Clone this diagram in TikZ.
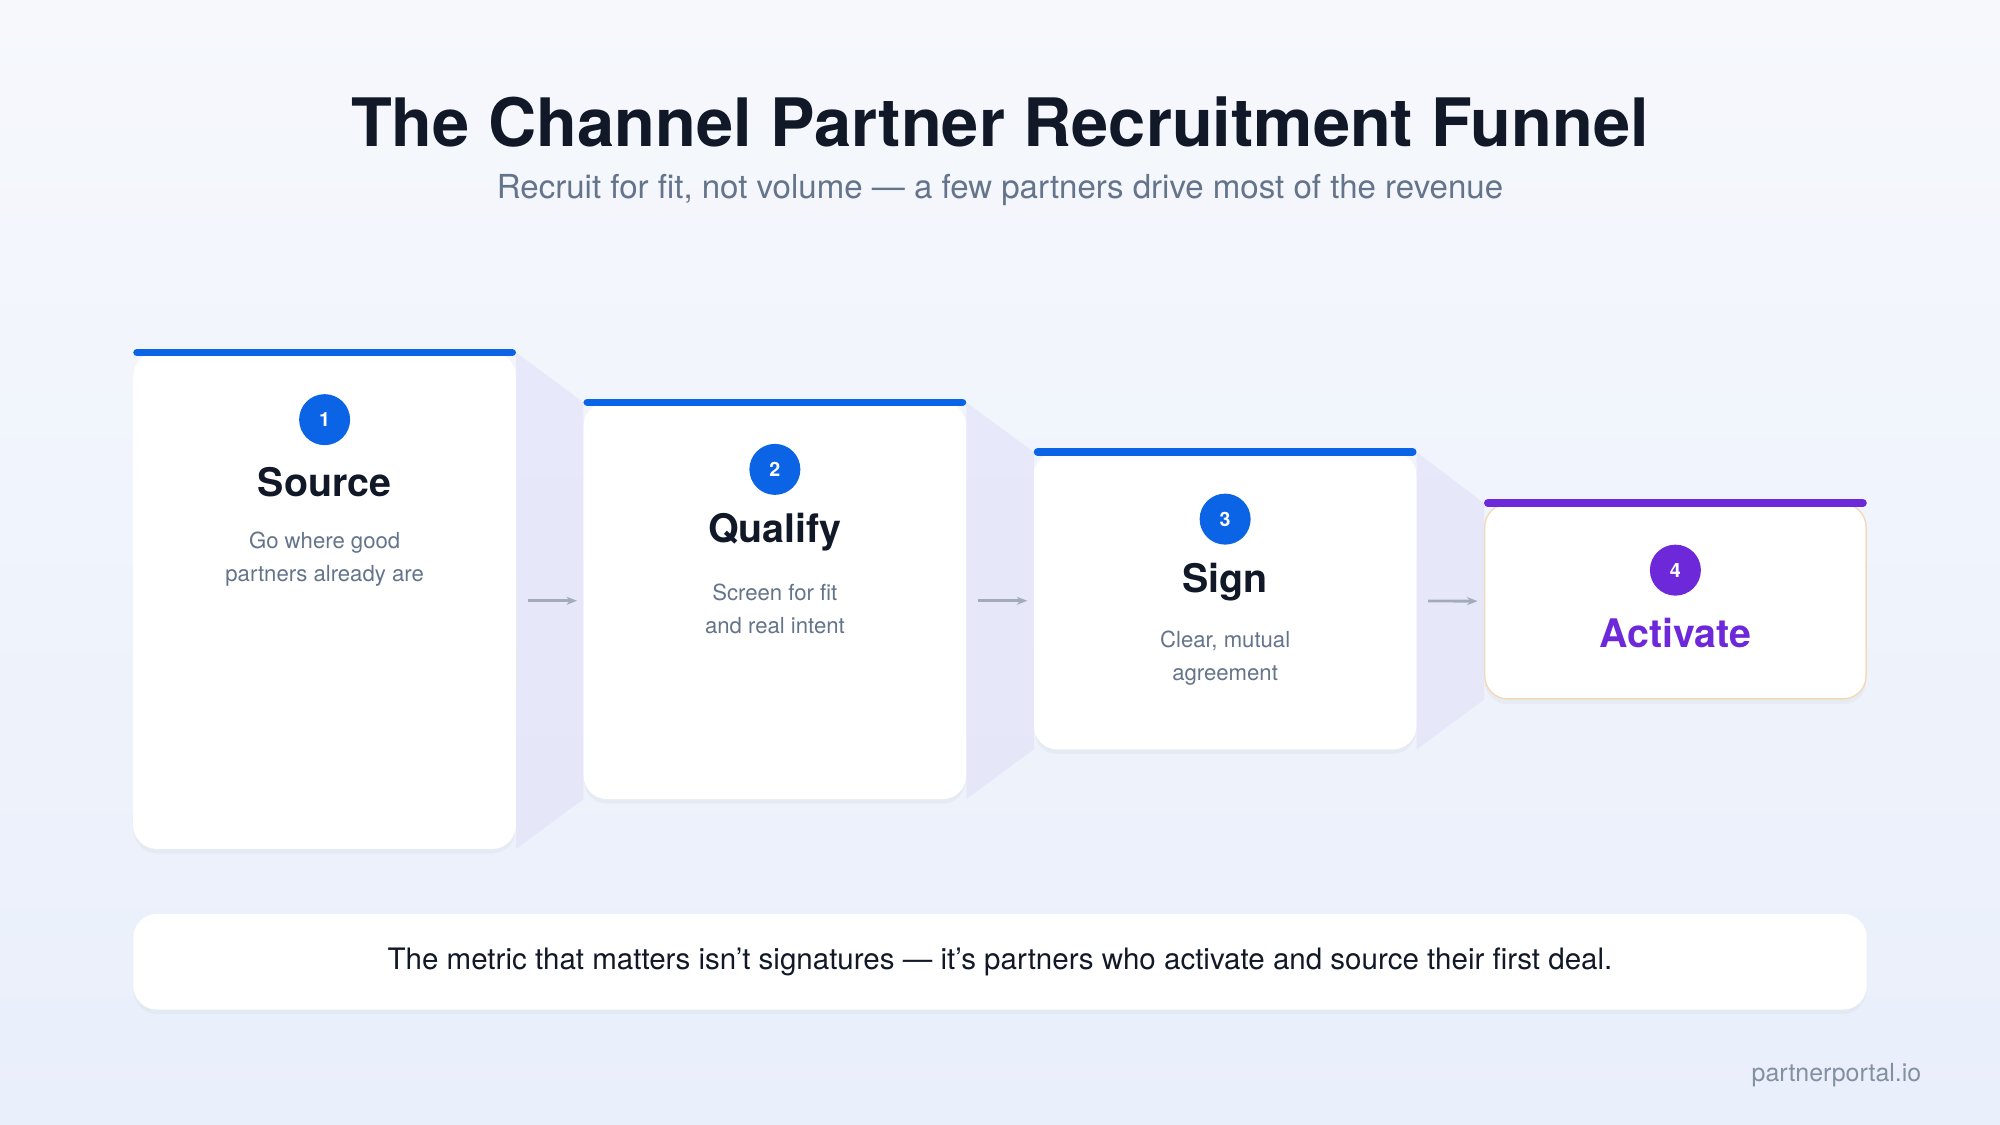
\documentclass[tikz,border=0pt]{standalone}
\usepackage{fontspec}
\setmainfont{TeX Gyre Heros}
\usepackage{xcolor}
\usetikzlibrary{arrows.meta, shadows}
\definecolor{inkdark}{HTML}{111827}
\definecolor{inkgrey}{HTML}{64748B}
\definecolor{barblue}{HTML}{0B63E5}
\definecolor{barpurple}{HTML}{6D28D9}
\definecolor{bgtop}{HTML}{F6F8FC}
\definecolor{bgbottom}{HTML}{E9EFFB}
\definecolor{gapfill}{HTML}{E3E3F8}
\definecolor{edgeorange}{HTML}{F3D9B8}
\tikzset{
    card/.style={draw=white, fill=white, rounded corners=0.23cm, minimum width=3.814cm,
        drop shadow={opacity=0.06, shadow xshift=0pt, shadow yshift=-1.5pt}},
    bar/.style={line width=2.2pt, line cap=round, shorten <=1.1pt, shorten >=1.1pt},
    badge/.style={circle, fill=barblue, text=white, minimum size=0.51cm, inner sep=0pt,
        font=\fontsize{5.6}{6}\selectfont\bfseries},
    stagename/.style={text=inkdark, font=\fontsize{11.2}{13}\selectfont\bfseries},
    note/.style={text=inkgrey, align=center, font=\fontsize{6.3}{9.4}\selectfont},
    gap/.style={fill=gapfill, opacity=0.7},
    link/.style={-{Stealth[length=3pt]}, line width=0.8pt, draw=inkgrey!60,
        shorten <=0.115cm, shorten >=0.064cm}
}
\begin{document}
\begin{tikzpicture}[x=0.012755cm, y=-0.012755cm]
    \shade[top color=bgtop, bottom color=bgbottom] (0,0) rectangle (1568,882);
    \useasboundingbox (0,0) rectangle (1568,882);

    \node[text=inkdark, font=\fontsize{19}{22}\selectfont\bfseries] (title) at (784,96) {The Channel Partner Recruitment Funnel};
    \node[text=inkgrey, font=\fontsize{9.4}{11}\selectfont] (subtitle) at (784,149) {Recruit for fit, not volume — a few partners drive most of the revenue};

    % cards
    \node[card, minimum height=4.95cm] (source) at (254.5,471) {};
    \node[card, minimum height=3.954cm] (qualify) at (607.5,471) {};
    \node[card, minimum height=2.959cm] (sign) at (960.5,471) {};
    \node[card, draw=edgeorange, minimum height=1.951cm] (activate) at (1313.5,471.5) {};

    % funnel gaps
    \fill[gap] (source.north east) -- (qualify.north west) -- (qualify.south west) -- (source.south east) -- cycle;
    \fill[gap] (qualify.north east) -- (sign.north west) -- (sign.south west) -- (qualify.south east) -- cycle;
    \fill[gap] (sign.north east) -- (activate.north west) -- (activate.south west) -- (sign.south east) -- cycle;

    \draw[bar, barblue] (source.north west) -- (source.north east);
    \draw[bar, barblue] (qualify.north west) -- (qualify.north east);
    \draw[bar, barblue] (sign.north west) -- (sign.north east);
    \draw[bar, barpurple] (activate.north west) -- (activate.north east);

    \draw[link] (source) -- (qualify);
    \draw[link] (qualify) -- (sign);
    \draw[link] (sign) -- (activate);

    % card contents
    \node[badge] (badge1) at (254.5,329) {1};
    \node[stagename] (stage1) at (254.5,378) {Source};
    \node[note] (note1) at (254.5,438) {Go where good\\partners already are};

    \node[badge] (badge2) at (607.5,368) {2};
    \node[stagename] (stage2) at (607.5,417) {Qualify};
    \node[note] (note2) at (607.5,477) {Screen for fit\\and real intent};

    \node[badge] (badge3) at (960.5,407) {3};
    \node[stagename] (stage3) at (960.5,456) {Sign};
    \node[note] (note3) at (960.5,516) {Clear, mutual\\agreement};

    \node[badge, fill=barpurple] (badge4) at (1313.5,447) {4};
    \node[stagename, text=barpurple] (stage4) at (1313.5,496) {Activate};

    % takeaway
    \node[card, minimum width=17.32cm, minimum height=0.944cm, text=inkdark,
        font=\fontsize{8.4}{10}\selectfont] (takeaway) at (784,754)
        {The metric that matters isn't signatures — it's partners who activate and source their first deal.};

    \node[anchor=east, text=inkgrey!80, font=\fontsize{7.1}{8}\selectfont] (footer) at (1516,843) {partnerportal.io};
\end{tikzpicture}
\end{document}
